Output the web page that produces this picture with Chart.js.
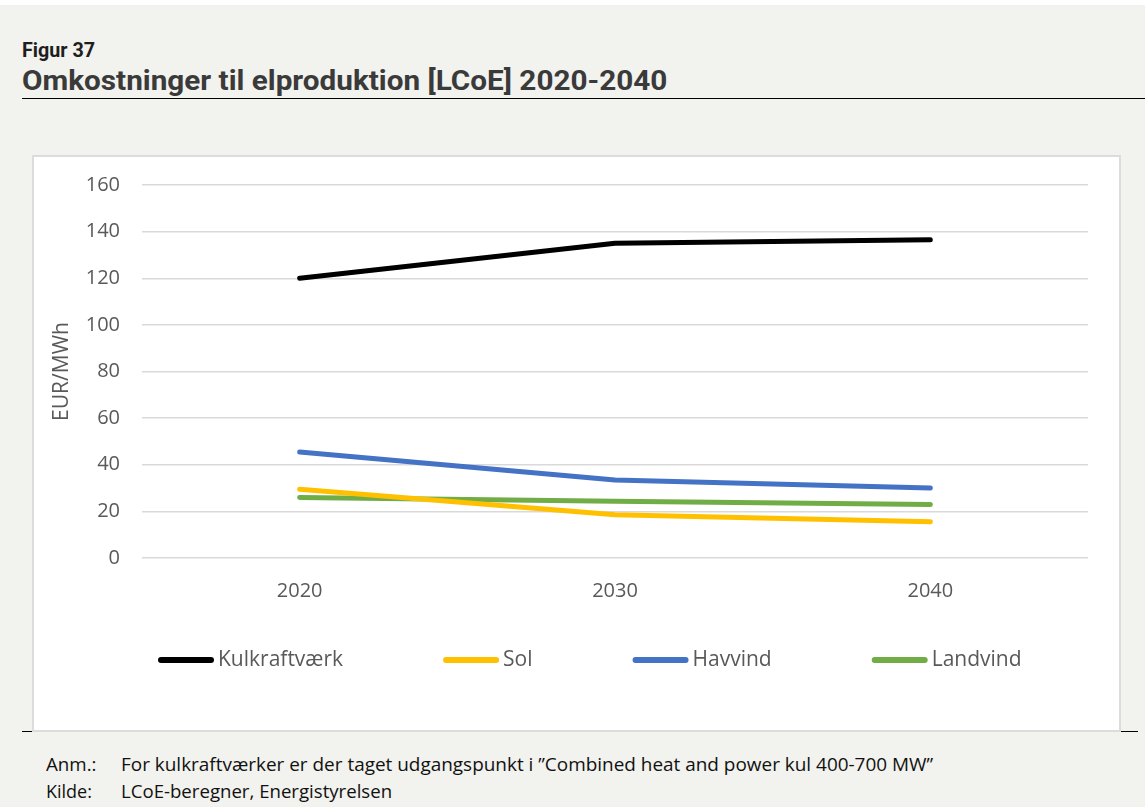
<!DOCTYPE html>
<html lang="da">
<head>
<meta charset="utf-8">
<title>Figur 37</title>
<script src="https://cdn.jsdelivr.net/npm/chart.js@4"></script>
<style>
  html, body { margin: 0; padding: 0; }
  body {
    width: 1145px; height: 807px; position: relative; overflow: hidden;
    background: #f2f2ee; font-family: "Open Sans", sans-serif;
  }
  #topstrip { position: absolute; left: 0; top: 0; width: 1145px; height: 5px; background: #fff; }
  #fig-label {
    position: absolute; left: 22px; top: 38px; font: bold 20px Roboto, sans-serif; color: #1e1e1e;
    white-space: nowrap; transform-origin: 0 0;
  }
  #fig-title {
    position: absolute; left: 22px; top: 64px; font: bold 28px Roboto, sans-serif; color: #3a3a3a;
    white-space: nowrap; transform-origin: 0 0;
  }
  #title-rule { position: absolute; left: 22px; top: 98px; width: 1123px; height: 1px; background: #000; }
  #bottom-rule { position: absolute; left: 22px; top: 731px; width: 1116px; height: 1px; background: #000; }
  #chart-box {
    position: absolute; left: 32px; top: 155px; width: 1085px; height: 573px;
    background: #fff; border: 2px solid #dcdcdc;
  }
  #chart-box canvas { position: absolute; left: 0; top: 0; }
  .note { position: absolute; font-size: 18px; color: #111; white-space: nowrap; }
  .note .lbl { position: absolute; left: 0; transform-origin: 0 50%; }
  .note .txt { position: absolute; left: 75px; transform-origin: 0 50%; }
</style>
</head>
<body>
<div id="topstrip"></div>
<div id="fig-label">Figur 37</div>
<div id="fig-title">Omkostninger til elproduktion [LCoE] 2020-2040</div>
<div id="title-rule"></div>
<div id="bottom-rule"></div>
<div id="chart-box"><canvas id="lcoe-chart" width="1085" height="573"></canvas></div>
<div class="note" style="left:46px; top:752px;"><span class="lbl" id="anm-lbl">Anm.:</span><span class="txt" id="anm-txt">For kulkraftværker er der taget udgangspunkt i ”Combined heat and power kul 400-700 MW”</span></div>
<div class="note" style="left:46px; top:779px;"><span class="lbl" id="kilde-lbl">Kilde:</span><span class="txt" id="kilde-txt">LCoE-beregner, Energistyrelsen</span></div>

<script>
// Data (EUR/MWh)
const years = ['2020', '2030', '2040'];
const kulkraft = [120, 135, 136.5];
const sol = [29.5, 18.6, 15.5];
const havvind = [45.5, 33.5, 30];
const landvind = [26, 24.3, 22.9];

const seriesNames = ['Kulkraftværk', 'Sol', 'Havvind', 'Landvind'];
const seriesColors = ['#000000', '#ffc000', '#4472c4', '#70ad47'];
const yTicks = [0, 20, 40, 60, 80, 100, 120, 140, 160];

// Originalen bruger smalle skrifter: skaler teksten til originalens bredde
function fitWidth(id, width) {
    const el = document.getElementById(id);
    el.style.transform = 'scaleX(' + (width / el.offsetWidth) + ')';
}
fitWidth('fig-label', 73);
fitWidth('fig-title', 645);
fitWidth('anm-lbl', 51);
fitWidth('kilde-lbl', 46);
fitWidth('anm-txt', 812);
fitWidth('kilde-txt', 271);

const FONT = '"Open Sans", sans-serif';
const TEXT_GREY = '#595959';

function makeDataset(label, data, color) {
    return {
        label: label,
        data: data,
        borderColor: color,
        backgroundColor: color,
        borderWidth: 5,
        borderCapStyle: 'round',
        borderJoinStyle: 'round',
        pointRadius: 0,
        pointHoverRadius: 0,
        tension: 0
    };
}

const seriesData = [kulkraft, sol, havvind, landvind];
const datasets = seriesNames.map((name, i) => makeDataset(name, seriesData[i], seriesColors[i]));

// Excel-agtig forklaring: bred afstand mellem punkterne, tæt på teksten
const wideLegend = {
    id: 'wideLegend',
    afterDraw(chart) {
        const c = chart.ctx;
        const cy = 503;
        let x = 124;
        c.save();
        c.font = '21px ' + FONT;
        c.textBaseline = 'middle';
        c.textAlign = 'left';
        chart.data.datasets.forEach(ds => {
            c.fillStyle = ds.borderColor;
            c.beginPath();
            c.roundRect(x, cy - 3, 56, 6, 3);
            c.fill();
            c.fillStyle = TEXT_GREY;
            c.fillText(ds.label, x + 60, cy);
            x += 60 + c.measureText(ds.label).width + 100;
        });
        c.restore();
    }
};

const ctx = document.getElementById('lcoe-chart').getContext('2d');
new Chart(ctx, {
    type: 'line',
    data: { labels: years, datasets: datasets },
    plugins: [wideLegend],
    options: {
        responsive: false,
        animation: false,
        layout: { padding: { top: 28, right: 31, bottom: 128, left: 0 } },
        plugins: {
            tooltip: { enabled: false },
            legend: { display: false }
        },
        scales: {
            x: {
                offset: true,
                grid: { display: false, drawTicks: false },
                border: { display: false },
                ticks: { color: TEXT_GREY, font: { family: FONT, size: 20 }, padding: 21 },
                afterFit: function(scale) { scale.height = 44; }
            },
            y: {
                min: 0,
                max: 160,
                afterBuildTicks: function(scale) {
                    scale.ticks = yTicks.map(v => ({ value: v }));
                },
                grid: { color: '#d9d9d9', lineWidth: 1.5, drawTicks: false },
                border: { display: false },
                ticks: { color: TEXT_GREY, font: { family: FONT, size: 20 }, padding: 22 },
                title: {
                    display: true,
                    text: 'EUR/MWh',
                    color: TEXT_GREY,
                    font: { family: FONT, size: 21 },
                    padding: { top: 15.4, bottom: 0 }
                },
                afterFit: function(scale) {
                    scale.width = 108;
                    // plotområdet styres af layout.padding alene
                    scale.paddingTop = 0;
                    scale.paddingBottom = 0;
                }
            }
        }
    }
});
</script>
</body>
</html>
